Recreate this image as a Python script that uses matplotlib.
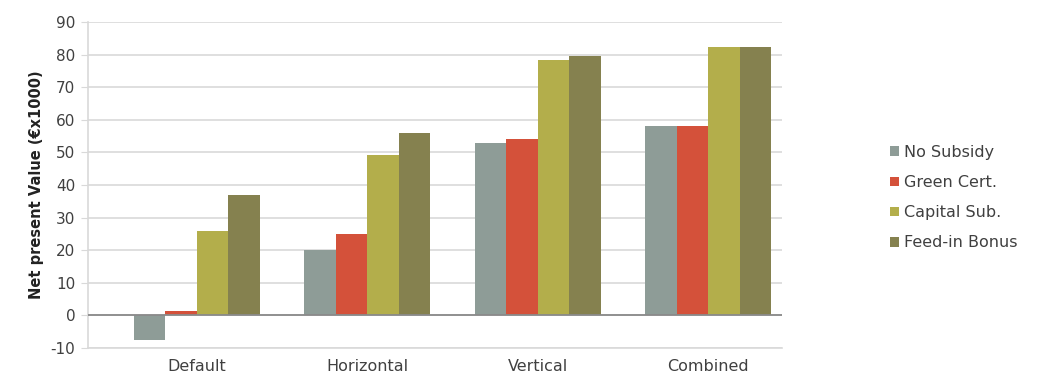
import matplotlib
matplotlib.use("Agg")
import matplotlib.pyplot as plt
import numpy as np

categories = ["Default", "Horizontal", "Vertical", "Combined"]
series_names = ["No Subsidy", "Green Cert.", "Capital Sub.", "Feed-in Bonus"]
no_subsidy = [-7.5, 20, 53, 58]
green_cert = [1.3, 25, 54, 58]
capital_sub = [26, 49.2, 78.5, 82.3]
feed_in_bonus = [37, 56, 79.5, 82.3]
y_ticks = [-10, 0, 10, 20, 30, 40, 50, 60, 70, 80, 90]

series = [no_subsidy, green_cert, capital_sub, feed_in_bonus]
colors = ["#8e9c97", "#d4513a", "#b3ae4b", "#85814f"]

plt.rcParams["font.family"] = ["DejaVu Sans"]
plt.rcParams["axes.unicode_minus"] = False
fig = plt.figure(figsize=(10.45, 3.8), dpi=100)
ax = fig.add_axes([0.084, 0.084, 0.664, 0.858])

x = np.arange(len(categories))
width = 0.185
for i, (vals, col, name) in enumerate(zip(series, colors, series_names)):
    offs = (i - 1.5) * width
    ax.bar(x + offs, vals, width, color=col, label=name, zorder=3)

ax.set_xlim(-0.64, 3.43)
ax.set_ylim(-10, 90)
ax.set_yticks(y_ticks)
ax.set_xticks(x)
ax.set_xticklabels(categories)
ax.yaxis.grid(True, color="#d9d9d9", linewidth=1.2, zorder=0)
ax.axhline(0, color="#8a8a8a", linewidth=1.3, zorder=4)
for s in ["top", "right"]:
    ax.spines[s].set_visible(False)
ax.spines["left"].set_color("#d9d9d9")
ax.spines["bottom"].set_color("#d9d9d9")
ax.spines["left"].set_linewidth(1.2)
ax.spines["bottom"].set_linewidth(1.2)
ax.tick_params(axis="y", length=5, color="#d9d9d9", labelsize=11, labelcolor="#404040", pad=4)
ax.tick_params(axis="x", length=0, labelsize=11.5, labelcolor="#404040", pad=8)
ax.set_ylabel("Net present Value (€x1000)", fontsize=10.5, fontweight="bold", color="#222222", labelpad=5)

leg = fig.legend(loc="center left", bbox_to_anchor=(0.838, 0.48), frameon=False,
                 fontsize=11.5, handlelength=0.55, handleheight=0.55, handletextpad=0.3,
                 labelspacing=0.95, labelcolor="#404040")

fig.savefig("out.png", dpi=100)
